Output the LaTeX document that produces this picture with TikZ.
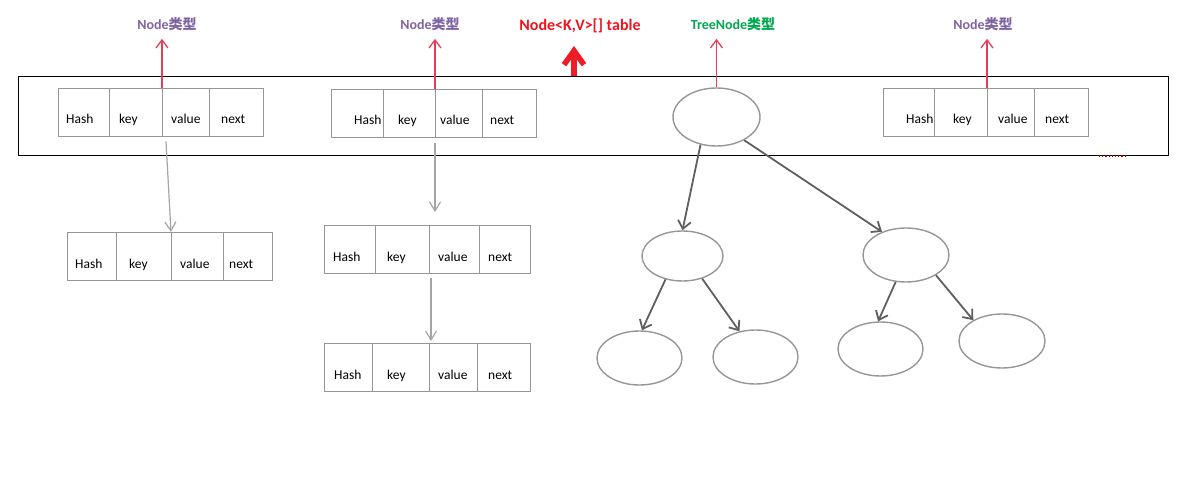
\documentclass[tikz,border=0pt]{standalone}
\usepackage{fontspec}
\setmainfont{Carlito}
\newfontfamily\cjk{Noto Sans CJK SC}
\usetikzlibrary{arrows.meta,calc,shapes.geometric}
\definecolor{boxgray}{RGB}{150,150,150}
\definecolor{arrgray}{RGB}{165,165,165}
\definecolor{treegray}{RGB}{95,95,95}
\definecolor{redarr}{RGB}{230,60,85}
\definecolor{lblpurple}{RGB}{128,100,162}
\definecolor{lblgreen}{RGB}{0,168,80}
\definecolor{lblred}{RGB}{240,20,30}
\definecolor{bigred}{RGB}{238,28,38}
\newcommand\cellbox[6]{% name, x0, x1, ytop, textx, text
  \node[cell, minimum width={#3pt-#2pt}] (#1) at (#2,#4) {};
  \node[txt] at (#5,#4+36) {#6};}
\begin{document}
\begin{tikzpicture}[x=1pt,y=-1pt,
  cell/.style={draw=boxgray, line width=1.3pt, rectangle, inner sep=0pt, minimum height=48pt, anchor=north west},
  txt/.style={anchor=base west, inner sep=0pt, font=\fontsize{13.5}{16}\selectfont},
  typelbl/.style={font=\fontsize{14}{17}\selectfont\bfseries, inner sep=1pt},
  redline/.style={draw=redarr, line width=1.3pt, -{Straight Barb[length=8pt,width=12pt]}, shorten >=7pt},
  grayline/.style={draw=arrgray, line width=1.2pt, -{Straight Barb[length=9pt,width=11pt]}},
  treenode/.style={draw=boxgray, line width=1.4pt, ellipse, inner sep=0pt},
  treeline/.style={draw=treegray, line width=1.8pt, -{Straight Barb[length=8pt,width=13pt]}}]
\useasboundingbox (0,0) rectangle (1203,492);
% table
\node[draw=black, line width=1.4pt, rectangle, inner sep=0pt, anchor=north west, minimum width=1150pt, minimum height=79pt] (table) at (18,76) {};
\draw[draw=red!65!black, dotted, line width=1.2pt] (1099,156) -- (1125,156);
% record 1
\cellbox{r1a}{58}{109}{88}{66}{Hash}
\cellbox{r1b}{109}{162}{88}{119}{key}
\cellbox{r1c}{162}{209}{88}{171}{value}
\cellbox{r1d}{209}{263}{88}{221}{next}
% record 2
\cellbox{r2a}{331}{383}{89}{354}{Hash}
\cellbox{r2b}{383}{435}{89}{398}{key}
\cellbox{r2c}{435}{482}{89}{440}{value}
\cellbox{r2d}{482}{536}{89}{490}{next}
% record 4
\cellbox{r4a}{883}{934}{88}{906}{Hash}
\cellbox{r4b}{934}{987}{88}{953}{key}
\cellbox{r4c}{987}{1034}{88}{998}{value}
\cellbox{r4d}{1034}{1088}{88}{1045}{next}
% lower left record
\cellbox{l1a}{67}{116}{232}{75}{Hash}
\cellbox{l1b}{116}{171}{232}{129}{key}
\cellbox{l1c}{171}{223}{232}{180}{value}
\cellbox{l1d}{223}{272}{232}{229}{next}
% middle records
\cellbox{m2a}{324}{375}{225}{333}{Hash}
\cellbox{m2b}{375}{429}{225}{387}{key}
\cellbox{m2c}{429}{479}{225}{438}{value}
\cellbox{m2d}{479}{530}{225}{488}{next}
\cellbox{m3a}{324}{372}{343}{334}{Hash}
\cellbox{m3b}{372}{429}{343}{387}{key}
\cellbox{m3c}{429}{477}{343}{438}{value}
\cellbox{m3d}{477}{530}{343}{488}{next}
% labels
\node[typelbl, text=lblpurple] (n1) at (167,24) {Node{\cjk 类型}};
\node[typelbl, text=lblpurple] (n2) at (430,24) {Node{\cjk 类型}};
\node[typelbl, text=lblpurple] (n4) at (983,24) {Node{\cjk 类型}};
\node[typelbl, text=lblgreen] (tn) at (733,24) {TreeNode{\cjk 类型}};
\node[font=\fontsize{16}{19}\selectfont\bfseries, text=lblred, inner sep=1pt] (tl) at (580,26) {Node<K,V>[] table};
% tree
\node[treenode, minimum width=87pt, minimum height=58pt] (root) at (716.5,117) {};
\node[treenode, minimum width=81pt, minimum height=50pt] (L1) at (682.5,256) {};
\node[treenode, minimum width=86pt, minimum height=54pt] (R1) at (906,255) {};
\node[treenode, minimum width=85pt, minimum height=54pt] (LL) at (639.5,358) {};
\node[treenode, minimum width=85pt, minimum height=54pt] (LR) at (755.5,357) {};
\node[treenode, minimum width=85pt, minimum height=54pt] (RL) at (880.5,349) {};
\node[treenode, minimum width=86pt, minimum height=54pt] (RR) at (1002,341) {};
% red arrows up
\draw[redline] (r1c.north west) -- (r1c.north west |- n1.south);
\draw[redline] (r2c.north west) -- (r2c.north west |- n2.south);
\draw[redline] (r4c.north west) -- (r4c.north west |- n4.south);
\draw[redline] (root.north) -- (root.north |- tn.south);
\coordinate (tblpt) at (574,76);
\coordinate (tbltip) at (574,51);
\draw[draw=bigred, line width=5.5pt, shorten >=-5pt, -{Straight Barb[length=14pt,width=20pt]}] (tblpt) -- (tbltip);
% gray list arrows
\draw[grayline] ($(r1c.south west)+(4,4)$) -- (l1c.north west);
\draw[grayline] ($(r2c.south west)+(0,5)$) -- ($(m2c.north west)+(6,-13)$);
\draw[grayline] ($(m2c.south west)+(2,4)$) -- ($(m3c.north west)+(2,-2)$);
% tree arrows
\draw[treeline] (root.240) -- (L1.north);
\draw[treeline] (root.320) -- (R1.136);
\draw[treeline] (L1.234) -- (LL.85);
\draw[treeline] (L1.311) -- (LR.122);
\draw[treeline] (R1.249) -- (RL.95);
\draw[treeline] (R1.326) -- (RR.144);
\end{tikzpicture}
\end{document}
